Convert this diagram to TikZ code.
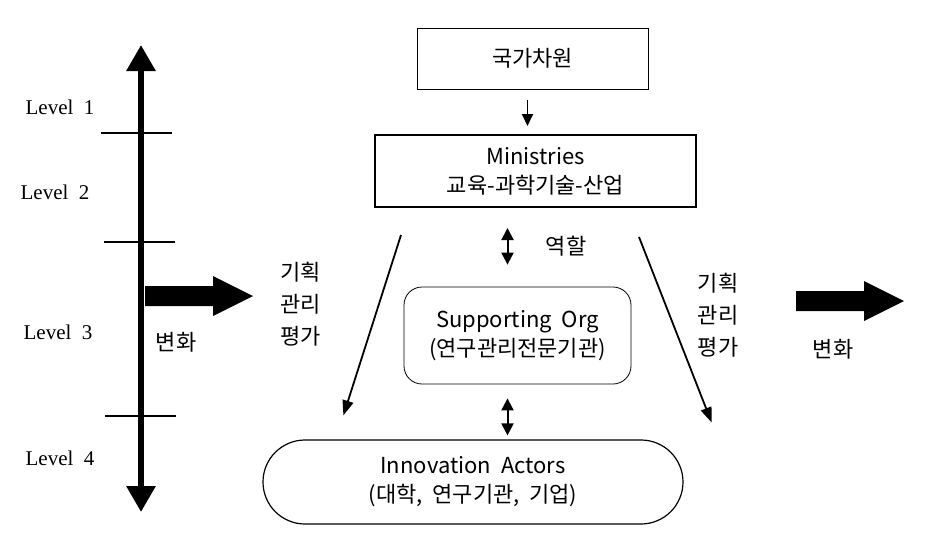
\documentclass[tikz,border=0pt]{standalone}
\usepackage{fontspec}
\setmainfont{Liberation Serif}
\newfontfamily\kr{Noto Sans CJK KR}
\usetikzlibrary{positioning,arrows.meta,calc}
\tikzset{
  box/.style   ={draw, align=center, inner sep=0pt,
                 font=\kr\fontsize{11}{14.5}\selectfont},
  lvl/.style   ={font=\fontsize{10.5}{12}\selectfont},
  krlab/.style ={font=\kr\fontsize{11}{16}\selectfont, align=center},
  % thick level axis with heads at both ends
  axisline/.style={line width=3pt,
                 {Triangle[length=13pt,width=14pt]}-{Triangle[length=13pt,width=14pt]}},
  tick/.style  ={line width=0.75pt},
  down/.style  ={line width=0.9pt, -{Triangle[length=6pt,width=5.5pt]}},
  twoway/.style={line width=1pt,
                 {Triangle[length=6pt,width=6pt]}-{Triangle[length=6pt,width=6pt]}},
  slant/.style ={line width=0.9pt, -{Triangle[length=7.5pt,width=5.5pt]}},
}
% fat block arrow pointing right, starting at #1
\newcommand{\fatarrow}[1]{%
  \fill (#1) ++(0,-10) -- ++(68,0) -- ++(0,-10) -- ++(40,20)
        -- ++(-40,20) -- ++(0,-10) -- ++(-68,0) -- cycle;}
\begin{document}
\begin{tikzpicture}[x=0.5pt,y=-0.5pt]
\useasboundingbox (0,0) rectangle (934,537);
% level axis
\coordinate (axtop) at (141,45);
\coordinate (axbot) at (141,512);
\draw[axisline] (axtop) -- (axbot);
\foreach \xa/\xb/\yy in {101/172/133, 104/175/242, 105/176/416}
  \draw[tick] (\xa,\yy) -- (\xb,\yy);
\node[lvl] (lv1) at (60,107) {Level\ \ 1};
\node[lvl] (lv2) at (55,192) {Level\ \ 2};
\node[lvl] (lv3) at (58,332) {Level\ \ 3};
\node[lvl] (lv4) at (60,458) {Level\ \ 4};
% change arrows
\coordinate (chgL) at (145,296);
\coordinate (chgR) at (796,301);
\fatarrow{chgL}
\fatarrow{chgR}
\node[krlab] (chgLtxt) at (176,342) {변화};
\node[krlab] (chgRtxt) at (833,349) {변화};
% organisation boxes
\node[box, minimum width=115.5pt, minimum height=30.5pt] (nat) at (532.5,58.5) {국가차원};
\node[box, line width=1pt, minimum width=160.5pt, minimum height=36pt] (min) at (535.5,171)
  {Ministries\\교육-과학기술-산업};
\node[box, rounded corners=9pt, minimum width=113.5pt, minimum height=48.5pt] (sup) at (517.5,335.5)
  {Supporting\ \ Org\\(연구관리전문기관)};
\node[box, line width=0.6pt, rounded corners=21pt, minimum width=210pt, minimum height=42pt] (act) at (473,482)
  {Innovation\ \ Actors\\(대학,\ \ 연구기관,\ \ 기업)};
% links
\draw[down, shorten <=5.5pt, shorten >=4pt] ([xshift=-2.5pt]nat.south) -- ([xshift=-2.5pt]nat.south |- min.north);
\draw[twoway, shorten <=10pt, shorten >=11pt] ([xshift=-5pt]sup.north |- min.south) -- ([xshift=-5pt]sup.north);
\draw[twoway, shorten <=7pt, shorten >=2pt] ([xshift=-5pt]sup.south) -- ([xshift=-5pt]sup.south |- act.north);
\draw[slant] ([shift={(27,27)}]min.south west) -- ([shift={(81,-24)}]act.north west);
\draw[slant] ([shift={(-58,29)}]min.south east) -- ([shift={(28,-17)}]act.north east);
\node[krlab] (role) at (566,246) {역할};
\node[krlab] (planL) at (301,304) {기획\\관리\\평가};
\node[krlab] (planR) at (718,315) {기획\\관리\\평가};
\end{tikzpicture}
\end{document}
